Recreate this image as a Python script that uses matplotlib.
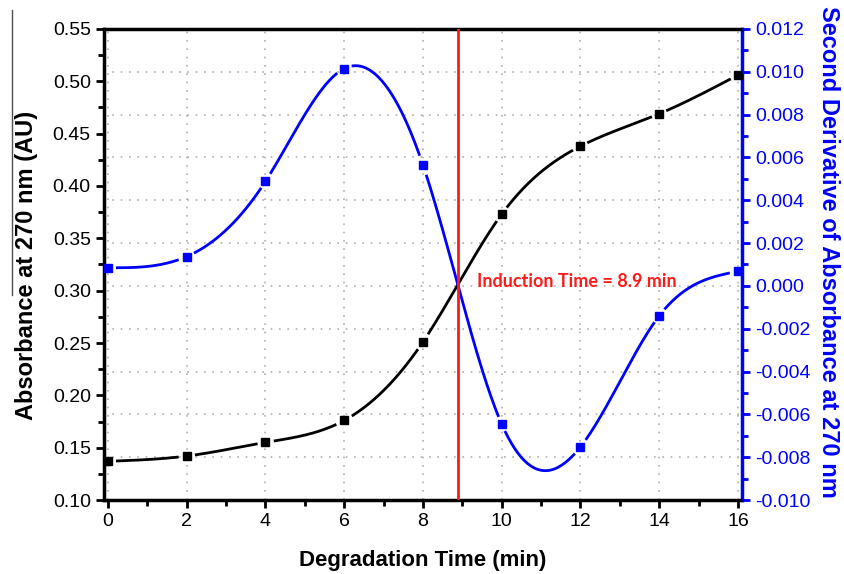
import numpy as np
import matplotlib.pyplot as plt
import matplotlib.transforms as mtransforms
from matplotlib.ticker import MultipleLocator
from matplotlib.lines import Line2D

plt.rcParams['font.family'] = ['Liberation Sans', 'DejaVu Sans']

time_min = [0, 2, 4, 6, 8, 10, 12, 14, 16]
absorbance = [0.137, 0.142, 0.155, 0.176, 0.251, 0.373, 0.438, 0.469, 0.506]
second_deriv = [0.00085, 0.00137, 0.00488, 0.01015, 0.00565, -0.00645,
                -0.00752, -0.0014, 0.00068]
induction_time = 8.9


def cubic_spline(x, y, n=600):
    # natural cubic spline, just for the smooth connecting line
    x = np.asarray(x, float)
    y = np.asarray(y, float)
    h = np.diff(x)
    m = len(x)
    A = np.zeros((m, m))
    b = np.zeros(m)
    A[0, 0] = A[-1, -1] = 1
    for i in range(1, m - 1):
        A[i, i - 1] = h[i - 1]
        A[i, i] = 2 * (h[i - 1] + h[i])
        A[i, i + 1] = h[i]
        b[i] = 6 * ((y[i + 1] - y[i]) / h[i] - (y[i] - y[i - 1]) / h[i - 1])
    M = np.linalg.solve(A, b)
    t = np.linspace(x[0], x[-1], n)
    k = np.clip(np.searchsorted(x, t) - 1, 0, m - 2)
    dx1 = x[k + 1] - t
    dx0 = t - x[k]
    hk = h[k]
    s = (M[k] * dx1**3 + M[k + 1] * dx0**3) / (6 * hk) \
        + (y[k] / hk - M[k] * hk / 6) * dx1 + (y[k + 1] / hk - M[k + 1] * hk / 6) * dx0
    return t, s


def curve_with_gaps(ax, x, y, color, gap_px=9):
    # Origin-style line that stops a little short of each symbol
    t, s = cubic_spline(x, y)
    pts = ax.transData.transform(np.column_stack([t, s]))
    marks = ax.transData.transform(np.column_stack([x, y]))
    d = np.min(np.hypot(pts[:, None, 0] - marks[None, :, 0],
                        pts[:, None, 1] - marks[None, :, 1]), axis=1)
    s = np.where(d < gap_px, np.nan, s)
    ax.plot(t, s, color=color, lw=2, zorder=3)
    ax.plot(x, y, 's', color=color, mfc=color, mec=color, ms=5.8, mew=1,
            zorder=4, clip_on=False)


blue = '#0000ff'
red = '#ff1a1a'
grid_kw = dict(ls=(0, (1, 4)), color='#b0b0b0', lw=1.2)

fig = plt.figure(figsize=(8.44, 5.74), dpi=100)
ax = fig.add_axes([0.1232, 0.1289, 0.7558, 0.8206])
ax2 = ax.twinx()

ax.set_xlim(-0.1, 16.1)
ax.set_ylim(0.10, 0.55)
ax2.set_ylim(-0.010, 0.012)

ax.xaxis.set_major_locator(MultipleLocator(2))
ax.xaxis.set_minor_locator(MultipleLocator(1))
ax.yaxis.set_major_locator(MultipleLocator(0.05))
ax.yaxis.set_minor_locator(MultipleLocator(0.025))
ax2.yaxis.set_major_locator(MultipleLocator(0.002))
ax2.yaxis.set_minor_locator(MultipleLocator(0.001))
ax.yaxis.set_major_formatter(plt.FormatStrFormatter('%.2f'))
ax2.yaxis.set_major_formatter(plt.FormatStrFormatter('%.3f'))

# grid: vertical from the x ticks, horizontal from the right-hand ticks,
# both drawn on the lower axes so nothing paints over the symbols
ax.set_axisbelow(True)
ax.xaxis.grid(True, **grid_kw)
trans = mtransforms.blended_transform_factory(ax.transAxes, ax2.transData)
for v in ax2.get_yticks()[1:-1]:
    ax.plot([0, 1], [v, v], transform=trans, zorder=1, **grid_kw)

curve_with_gaps(ax, time_min, absorbance, 'black')
curve_with_gaps(ax2, time_min, second_deriv, blue)

ax2.axvline(induction_time, color=red, lw=2, zorder=5)
ax.text(9.38, 0.309, 'Induction Time = 8.9 min', color=red, fontsize=13,
        fontweight='bold', family=['Lato', 'DejaVu Sans'], va='center', ha='left')

# frame lives on the lower axes so the symbols can sit on top of it
for sp in ax.spines.values():
    sp.set_linewidth(2.5)
ax.spines['right'].set_color(blue)
for sp in ax2.spines.values():
    sp.set_visible(False)

ax.tick_params(axis='both', which='major', direction='out', length=6, width=2,
               labelsize=14, top=False, right=False)
ax.tick_params(axis='both', which='minor', direction='out', length=4, width=2,
               top=False, right=False)
ax2.tick_params(axis='y', which='major', direction='out', length=6, width=2,
                labelsize=14, colors=blue)
ax2.tick_params(axis='y', which='minor', direction='out', length=4, width=2, colors=blue)

ax.set_xlabel('Degradation Time (min)', fontsize=16, fontweight='bold', labelpad=14)
ax.set_ylabel('Absorbance at 270 nm (AU)', fontsize=17, fontweight='bold')
ax.yaxis.set_label_coords(-0.103, 0.497)
ax2.set_ylabel('Second Derivative of Absorbance at 270 nm', fontsize=17,
               fontweight='bold', color=blue, rotation=270)
ax2.yaxis.set_label_coords(1.154, 0.527)

# thin stray rule at the left edge of the original image
fig.add_artist(Line2D([12 / 844, 12 / 844], [1 - 10 / 574, 1 - 295 / 574],
                      color='#505050', lw=1))

fig.savefig('out.png', dpi=100)
